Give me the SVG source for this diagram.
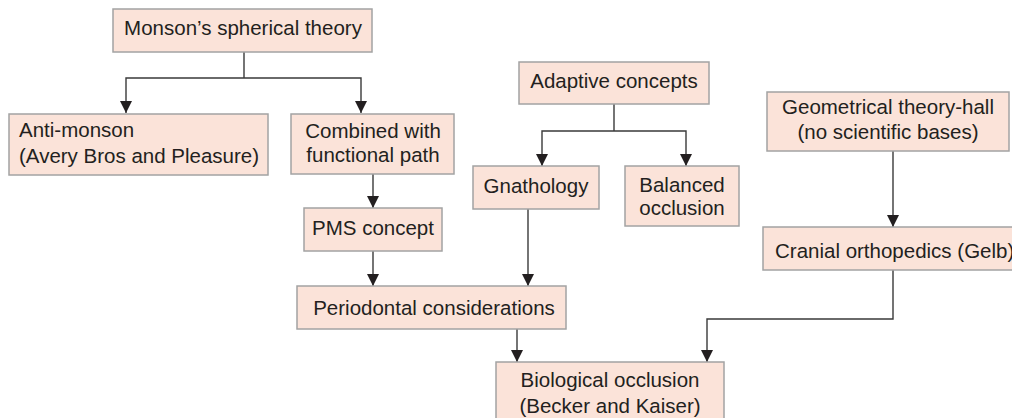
<svg xmlns="http://www.w3.org/2000/svg" width="1012" height="418" viewBox="0 0 1012 418">
<style>
.box{fill:#fbe3d9;stroke:#a3a3a3;stroke-width:1.5}
.t{font-family:"Liberation Sans",Arial,sans-serif;font-size:20.5px;fill:#231f20}
.m{text-anchor:middle}
.c{fill:none;stroke:#3a3a3a;stroke-width:1.4;marker-end:url(#ah)}
.n{fill:none;stroke:#3a3a3a;stroke-width:1.4}
</style>
<defs>
<marker id="ah" markerUnits="userSpaceOnUse" markerWidth="12" markerHeight="12" refX="12" refY="6" orient="auto">
<path d="M0,0 L12,6 L0,12 z" fill="#231f20"/>
</marker>
</defs>
<rect width="1012" height="418" fill="#ffffff"/>
<g id="connectors">
<path class="n" d="M244,52 V78"/>
<path class="c" d="M244,78 H126 V113"/>
<path class="c" d="M244,78 H361 V113"/>
<path class="c" d="M373,174 V208"/>
<path class="c" d="M373,251 V286"/>
<path class="n" d="M614,104 V131"/>
<path class="c" d="M614,131 H542 V166"/>
<path class="c" d="M614,131 H686 V166"/>
<path class="c" d="M528,209 V286"/>
<path class="c" d="M893,151 V227"/>
<path class="c" d="M517,329 V362"/>
<path class="c" d="M893,270 V319 H707 V362"/>
</g>
<g id="monson">
<rect class="box" x="113" y="9" width="259" height="43"/>
<text class="t m" x="243" y="35">Monson’s spherical theory</text>
</g>
<g id="antimonson">
<rect class="box" x="9" y="114" width="259" height="61"/>
<text class="t" x="19" y="137">Anti-monson</text>
<text class="t" x="19" y="163">(Avery Bros and Pleasure)</text>
</g>
<g id="combined">
<rect class="box" x="291" y="114" width="163" height="60"/>
<text class="t m" x="373" y="138">Combined with</text>
<text class="t m" x="373" y="162">functional path</text>
</g>
<g id="pms">
<rect class="box" x="304" y="208" width="138" height="43"/>
<text class="t m" x="373" y="235">PMS concept</text>
</g>
<g id="periodontal">
<rect class="box" x="297" y="286" width="269" height="43"/>
<text class="t m" x="434" y="315">Periodontal considerations</text>
</g>
<g id="adaptive">
<rect class="box" x="519" y="62" width="190" height="42"/>
<text class="t m" x="614" y="88">Adaptive concepts</text>
</g>
<g id="gnathology">
<rect class="box" x="473" y="166" width="126" height="43"/>
<text class="t m" x="536" y="193">Gnathology</text>
</g>
<g id="balanced">
<rect class="box" x="625" y="166" width="114" height="60"/>
<text class="t m" x="682" y="192">Balanced</text>
<text class="t m" x="682" y="215">occlusion</text>
</g>
<g id="geometrical">
<rect class="box" x="767" y="92" width="242" height="59"/>
<text class="t m" x="888" y="114">Geometrical theory-hall</text>
<text class="t m" x="888" y="139">(no scientific bases)</text>
</g>
<g id="cranial">
<rect class="box" x="763" y="227" width="260" height="43"/>
<text class="t" x="775" y="258">Cranial orthopedics (Gelb)</text>
</g>
<g id="biological">
<rect class="box" x="496" y="362" width="228" height="64"/>
<text class="t m" x="610" y="387">Biological occlusion</text>
<text class="t m" x="610" y="413">(Becker and Kaiser)</text>
</g>
</svg>
